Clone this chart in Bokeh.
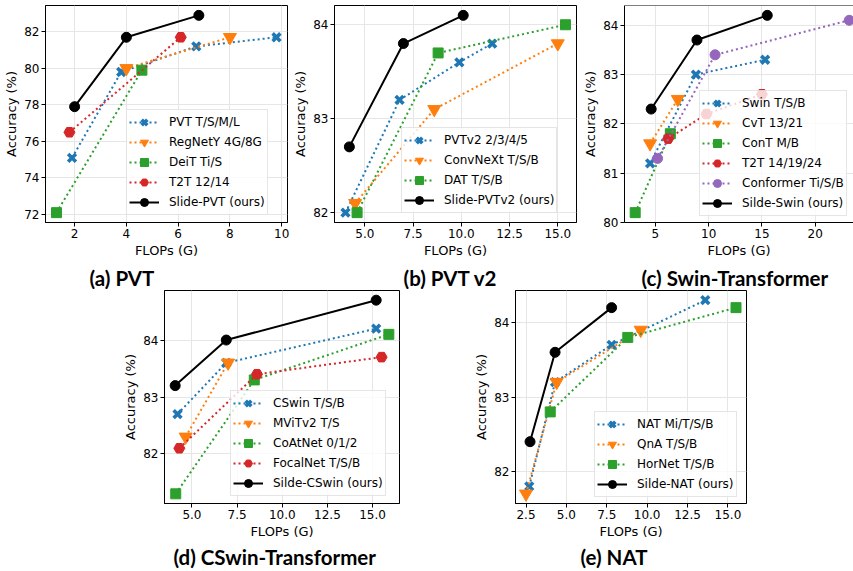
from bokeh.plotting import figure
from bokeh.layouts import column, row
from bokeh.models import (Range1d, FixedTicker, Legend, LegendItem, Spacer, Span,
                          NumeralTickFormatter)
from bokeh.core.properties import value
from bokeh.embed import file_html
from bokeh.resources import INLINE

# ---------------- data ----------------
# (a) PVT
a_pvt_x = [1.9, 3.8, 6.7, 9.8]
a_pvt_y = [75.1, 79.8, 81.2, 81.7]
a_regnet_x = [4.0, 8.0]
a_regnet_y = [80.0, 81.7]
a_deit_x = [1.3, 4.6]
a_deit_y = [72.1, 79.9]
a_t2t_x = [1.8, 6.1]
a_t2t_y = [76.5, 81.7]
a_slide_x = [2.0, 4.0, 6.8]
a_slide_y = [77.9, 81.7, 82.9]
a_xticks = [2, 4, 6, 8, 10]
a_yticks = [72, 74, 76, 78, 80, 82]

# (b) PVT v2
b_pvtv2_x = [4.0, 6.8, 9.9, 11.6]
b_pvtv2_y = [82.0, 83.2, 83.6, 83.8]
b_convnext_x = [4.5, 8.6, 15.0]
b_convnext_y = [82.1, 83.1, 83.8]
b_dat_x = [4.6, 8.8, 15.4]
b_dat_y = [82.0, 83.7, 84.0]
b_slide_x = [4.2, 7.0, 10.1]
b_slide_y = [82.7, 83.8, 84.1]
b_xticks = [5.0, 7.5, 10.0, 12.5, 15.0]
b_yticks = [82, 83, 84]

# (c) Swin-Transformer
c_swin_x = [4.5, 8.8, 15.3]
c_swin_y = [81.2, 83.0, 83.3]
c_cvt_x = [4.5, 7.1]
c_cvt_y = [81.6, 82.5]
c_cont_x = [3.1, 6.4]
c_cont_y = [80.2, 81.8]
c_t2t_x = [6.2, 9.8, 15.0]
c_t2t_y = [81.7, 82.2, 82.6]
c_conformer_x = [5.2, 10.6, 23.2]
c_conformer_y = [81.3, 83.4, 84.1]
c_slide_x = [4.6, 8.9, 15.5]
c_slide_y = [82.3, 83.7, 84.2]
c_xticks = [5, 10, 15, 20]
c_yticks = [80, 81, 82, 83, 84]

# (d) CSwin-Transformer
d_cswin_x = [4.2, 6.9, 15.2]
d_cswin_y = [82.7, 83.6, 84.2]
d_mvit_x = [4.65, 7.0]
d_mvit_y = [82.3, 83.6]
d_coatnet_x = [4.1, 8.45, 15.9]
d_coatnet_y = [81.3, 83.3, 84.1]
d_focal_x = [4.3, 8.6, 15.5]
d_focal_y = [82.1, 83.4, 83.7]
d_slide_x = [4.07, 6.9, 15.2]
d_slide_y = [83.2, 84.0, 84.7]
d_xticks = [5.0, 7.5, 10.0, 12.5, 15.0]
d_yticks = [82, 83, 84]

# (e) NAT
e_nat_x = [2.7, 4.3, 7.8, 13.6]
e_nat_y = [81.8, 83.2, 83.7, 84.3]
e_qna_x = [2.5, 4.4, 9.6]
e_qna_y = [81.7, 83.2, 83.9]
e_hornet_x = [4.0, 8.8, 15.5]
e_hornet_y = [82.8, 83.8, 84.2]
e_slide_x = [2.75, 4.3, 7.8]
e_slide_y = [82.4, 83.6, 84.2]
e_xticks = [2.5, 5.0, 7.5, 10.0, 12.5, 15.0]
e_yticks = [82, 83, 84]

titles_top = ["(a) PVT", "(b) PVT v2", "(c) Swin-Transformer"]
titles_bottom = ["(d) CSwin-Transformer", "(e) NAT"]

BLUE, ORANGE, GREEN, RED, PURPLE, BLACK = "#1f77b4", "#ff7f0e", "#2ca02c", "#d62728", "#9467bd", "#000000"


def pad(lo, hi, f=0.05):
    d = (hi - lo) * f
    return lo - d, hi + d


def add_series(p, name, xs, ys, color, marker, solid=False):
    line = p.line(xs, ys, line_color=color, line_width=2,
                  line_dash="solid" if solid else "2 3")
    if marker == "x":
        sc = p.scatter(xs, ys, marker="x", size=11, line_color=color, line_width=3.6)
    elif marker == "inverted_triangle":
        sc = p.scatter(xs, ys, marker=marker, size=13, fill_color=color, line_color=color)
    elif marker == "square":
        sc = p.scatter(xs, ys, marker=marker, size=10, fill_color=color, line_color=color)
    elif marker == "hex":
        sc = p.scatter(xs, ys, marker=marker, size=11, fill_color=color, line_color=color)
    else:
        sc = p.scatter(xs, ys, marker="circle", size=10, fill_color=color, line_color=color)
    return LegendItem(label=name, renderers=[line, sc])


def make_panel(series, xr, yr, xticks, xfmt, yticks, width, height,
               bl, br, bt, bb, legend_xy, open_right=False):
    p = figure(width=width, height=height, x_range=Range1d(*xr), y_range=Range1d(*yr),
               output_backend="svg", toolbar_location=None,
               min_border_left=bl, min_border_right=br, min_border_top=bt, min_border_bottom=bb)
    p.background_fill_color = "white"
    p.border_fill_color = "white"
    if open_right:
        p.outline_line_color = None
        p.add_layout(Span(location=yr[1], dimension="width", line_color="black", line_width=1))
    else:
        p.outline_line_color = "black"
        p.outline_line_width = 1
        p.outline_line_alpha = 1

    p.xaxis.ticker = FixedTicker(ticks=xticks, minor_ticks=[])
    p.yaxis.ticker = FixedTicker(ticks=yticks, minor_ticks=[])
    p.xaxis.formatter = NumeralTickFormatter(format=xfmt)
    p.yaxis.formatter = NumeralTickFormatter(format="0")
    p.xaxis.axis_label = "FLOPs (G)"
    p.yaxis.axis_label = "Accuracy (%)"
    for ax in (p.xaxis, p.yaxis):
        ax.axis_label_text_font = "DejaVu Sans"
        ax.axis_label_text_font_size = "13px"
        ax.axis_label_text_font_style = "normal"
        ax.axis_label_text_color = "black"
        ax.axis_label_standoff = 2
        ax.major_label_text_font = "DejaVu Sans"
        ax.major_label_text_font_size = "12px"
        ax.major_label_text_color = "black"
        ax.major_label_standoff = 2
        ax.major_tick_out = 4
        ax.major_tick_in = 0
        ax.minor_tick_out = 0
        ax.minor_tick_in = 0
        ax.axis_line_color = "black"
        ax.major_tick_line_color = "black"
    p.grid.grid_line_color = "#e6e6e6"
    p.grid.grid_line_width = 1

    items = [add_series(p, *s) for s in series]
    leg = Legend(items=items, location=legend_xy)
    leg.label_text_font = "DejaVu Sans"
    leg.label_text_font_size = "12px"
    leg.label_text_color = "black"
    leg.glyph_width = 30
    leg.glyph_height = 20
    leg.label_height = 20
    leg.spacing = 0
    leg.padding = 2
    leg.margin = 0
    leg.label_standoff = 10
    leg.border_line_color = "#cccccc"
    leg.border_line_width = 1
    leg.background_fill_color = "white"
    leg.background_fill_alpha = 0.8
    p.add_layout(leg)
    return p


def title_strip(width, height, xs, y, texts):
    s = figure(width=width, height=height, x_range=Range1d(0, width), y_range=Range1d(0, height),
               x_axis_type=None, y_axis_type=None, output_backend="svg",
               toolbar_location=None, min_border=0)
    s.outline_line_color = None
    s.background_fill_color = "white"
    s.border_fill_color = "white"
    s.text(x=xs, y=[y] * len(xs), text=texts, text_font=value("Lato"),
           text_font_style="bold", text_font_size=value("20.5px"), text_color="black",
           text_align="left", text_baseline="middle")
    return s


pa = make_panel(
    [("PVT T/S/M/L", a_pvt_x, a_pvt_y, BLUE, "x"),
     ("RegNetY 4G/8G", a_regnet_x, a_regnet_y, ORANGE, "inverted_triangle"),
     ("DeiT Ti/S", a_deit_x, a_deit_y, GREEN, "square"),
     ("T2T 12/14", a_t2t_x, a_t2t_y, RED, "hex"),
     ("Slide-PVT (ours)", a_slide_x, a_slide_y, BLACK, "circle", True)],
    pad(1.3, 9.8), pad(72.1, 82.9), a_xticks, "0", a_yticks,
    290, 262, 45, 3, 5, 40, (81, 7))

pb = make_panel(
    [("PVTv2 2/3/4/5", b_pvtv2_x, b_pvtv2_y, BLUE, "x"),
     ("ConvNeXt T/S/B", b_convnext_x, b_convnext_y, ORANGE, "inverted_triangle"),
     ("DAT T/S/B", b_dat_x, b_dat_y, GREEN, "square"),
     ("Slide-PVTv2 (ours)", b_slide_x, b_slide_y, BLACK, "circle", True)],
    pad(4.0, 15.4), pad(82.0, 84.1), b_xticks, "0.0", b_yticks,
    290, 262, 40, 4, 5, 40, (67, 9))

pc = make_panel(
    [("Swin T/S/B", c_swin_x, c_swin_y, BLUE, "x"),
     ("CvT 13/21", c_cvt_x, c_cvt_y, ORANGE, "inverted_triangle"),
     ("ConT M/B", c_cont_x, c_cont_y, GREEN, "square"),
     ("T2T 14/19/24", c_t2t_x, c_t2t_y, RED, "hex"),
     ("Conformer Ti/S/B", c_conformer_x, c_conformer_y, PURPLE, "circle"),
     ("Silde-Swin (ours)", c_slide_x, c_slide_y, BLACK, "circle", True)],
    (pad(3.1, 23.2)[0], 23.6), pad(80.2, 84.2), c_xticks, "0", c_yticks,
    273, 262, 40, 0, 5, 40, (75, 6), open_right=True)

pd_ = make_panel(
    [("CSwin T/S/B", d_cswin_x, d_cswin_y, BLUE, "x"),
     ("MViTv2 T/S", d_mvit_x, d_mvit_y, ORANGE, "inverted_triangle"),
     ("CoAtNet 0/1/2", d_coatnet_x, d_coatnet_y, GREEN, "square"),
     ("FocalNet T/S/B", d_focal_x, d_focal_y, RED, "hex"),
     ("Silde-CSwin (ours)", d_slide_x, d_slide_y, BLACK, "circle", True)],
    pad(4.07, 15.9), pad(81.3, 84.7), d_xticks, "0.0", d_yticks,
    285, 256, 40, 6, 1, 38, (66, 7))

pe = make_panel(
    [("NAT Mi/T/S/B", e_nat_x, e_nat_y, BLUE, "x"),
     ("QnA T/S/B", e_qna_x, e_qna_y, ORANGE, "inverted_triangle"),
     ("HorNet T/S/B", e_hornet_x, e_hornet_y, GREEN, "square"),
     ("Silde-NAT (ours)", e_slide_x, e_slide_y, BLACK, "circle", True)],
    pad(2.5, 15.5), pad(81.7, 84.3), e_xticks, "0.0", e_yticks,
    279, 256, 40, 4, 1, 42, (79, 6))

strip1 = title_strip(853, 27, [89, 403, 641], 12, titles_top)
strip2 = title_strip(853, 26, [173, 580], 15, titles_bottom)

row1 = row(pa, pb, pc)
row2 = row(Spacer(width=120, height=256), pd_, Spacer(width=66, height=256), pe)
layout = column(row1, strip1, row2, strip2)

open("out.html", "w").write(file_html(layout, INLINE))
